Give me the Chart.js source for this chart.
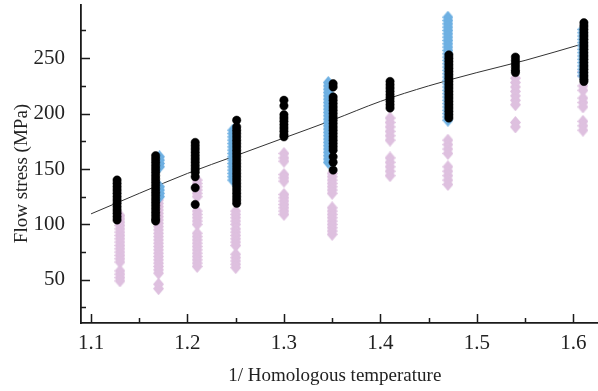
<!DOCTYPE html>
<html>
<head>
<meta charset="utf-8">
<script src="https://cdn.jsdelivr.net/npm/chart.js@4"></script>
<style>
  html, body { margin: 0; padding: 0; background: #fff; }
  #chart { display: block; }
</style>
</head>
<body>
<canvas id="chart" width="598" height="391"></canvas>
<script>
// column positions (1/ homologous temperature) and flow stress values (MPa)
const pinkX = [1.13, 1.17, 1.21, 1.25, 1.30, 1.35, 1.41, 1.47, 1.54, 1.61];
const pinkY = [
    [108, 105, 102, 99, 96, 93, 90, 87, 84, 81, 78, 75, 72, 69, 66, 58, 55, 52, 49],
    [125, 122, 119, 116, 113, 110, 107, 104, 101, 98, 95, 92, 89, 86, 83, 80, 77, 74, 71, 68, 65, 62, 59, 56, 46, 42],
    [140, 137, 134, 131, 128, 125, 112, 109, 106, 103, 100, 92, 89, 86, 83, 80, 77, 74, 71, 68, 65, 62],
    [112, 109, 106, 103, 100, 96, 93, 90, 87, 84, 81, 73, 70, 67, 64, 61],
    [164, 160, 157, 145, 142, 139, 127, 124, 121, 118, 115, 112, 109],
    [146, 143, 140, 137, 134, 131, 128, 115, 112, 109, 106, 103, 100, 97, 94, 91],
    [196, 192, 188, 184, 180, 176, 160, 156, 152, 148, 144],
    [176, 172, 168, 164, 152, 148, 144, 140, 136],
    [232, 228, 224, 220, 216, 212, 208, 192, 188],
    [238, 234, 225, 221, 214, 210, 206, 193, 189, 185]
];

const blueX = [1.171, 1.247, 1.346, 1.47, 1.61];
const blueY = [
    [161, 158, 155, 152, 134, 131, 128, 125],
    [185, 182, 179, 176, 173, 170, 167, 164, 161, 158, 155, 152, 149, 146, 143, 140],
    [228, 225, 222, 219, 216, 213, 210, 207, 204, 201, 198, 195, 192, 189, 186, 183, 180, 177, 174, 171, 168, 165, 162, 159, 156],
    [287, 284, 281, 278, 275, 272, 269, 266, 263, 260, 257, 254, 251, 248, 245, 242, 239, 236, 233, 230, 227, 224, 221, 218, 215, 212, 209, 206, 203, 200, 197, 194],
    [276, 273, 270, 267, 264, 261, 258, 255, 252, 249, 246, 243, 240, 237, 234]
];

const blackX = [1.127, 1.167, 1.208, 1.251, 1.30, 1.351, 1.41, 1.471, 1.54, 1.611];
const blackY = [
    [140, 137, 134, 131, 128, 125, 122, 119, 116, 113, 110, 107, 104],
    [162, 159, 156, 153, 150, 147, 144, 141, 138, 135, 132, 129, 126, 123, 120, 117, 114, 111, 108, 105, 103],
    [174, 171, 168, 165, 162, 159, 156, 153, 150, 147, 143, 133, 118],
    [194, 188, 185, 182, 179, 176, 173, 170, 167, 164, 161, 158, 155, 152, 149, 146, 143, 140, 137, 134, 131, 128, 125, 122, 119],
    [212, 207, 199, 196, 193, 190, 187, 184, 181, 179],
    [227, 224, 215, 212, 209, 206, 203, 200, 197, 194, 191, 188, 185, 182, 179, 176, 173, 170, 167, 161, 156, 149],
    [229, 226, 223, 220, 217, 214, 211, 208, 205],
    [253, 250, 247, 244, 241, 238, 235, 232, 229, 226, 223, 220, 217, 214, 211, 208, 205, 202, 199, 196],
    [251, 248, 245, 242, 239, 237],
    [282, 279, 276, 273, 270, 267, 264, 261, 258, 255, 252, 249, 246, 243, 240, 237, 234, 231, 229]
];

// fitted trend line
const lineX = [1.10, 1.15, 1.20, 1.25, 1.30, 1.35, 1.40, 1.45, 1.50, 1.55, 1.61];
const lineY = [109.5, 128, 146, 162, 178, 194, 211, 225, 237, 248, 263];

const xTicks = [1.1, 1.2, 1.3, 1.4, 1.5, 1.6];
const xMinorTicks = [1.15, 1.25, 1.35, 1.45, 1.55];
const yTicks = [50, 100, 150, 200, 250];
const yMinorTicks = [25, 75, 125, 175, 225, 275];

function toPoints(xs, ys) {
    const pts = [];
    xs.forEach((x, i) => ys[i].forEach(y => pts.push({ x: x, y: y })));
    return pts;
}

function diamond(color, w, h) {
    const c = document.createElement('canvas');
    c.width = w;
    c.height = h;
    const g = c.getContext('2d');
    g.fillStyle = color;
    g.beginPath();
    g.moveTo(w / 2, 0);
    g.lineTo(w, h / 2);
    g.lineTo(w / 2, h);
    g.lineTo(0, h / 2);
    g.closePath();
    g.fill();
    return c;
}

const FONT = 'Liberation Serif';
const AXIS_COLOR = '#1a1a1a';

// inward major/minor tick marks
const tickMarks = {
    id: 'tickMarks',
    afterDraw(chart) {
        const ctx = chart.ctx;
        const x = chart.scales.x;
        const y = chart.scales.y;
        ctx.save();
        ctx.strokeStyle = AXIS_COLOR;
        ctx.lineWidth = 1.5;
        ctx.beginPath();
        xTicks.forEach(v => {
            const px = Math.round(x.getPixelForValue(v)) + 0.5;
            ctx.moveTo(px, y.bottom);
            ctx.lineTo(px, y.bottom - 9);
        });
        xMinorTicks.forEach(v => {
            const px = Math.round(x.getPixelForValue(v)) + 0.5;
            ctx.moveTo(px, y.bottom);
            ctx.lineTo(px, y.bottom - 5);
        });
        yTicks.forEach(v => {
            const py = Math.round(y.getPixelForValue(v)) + 0.5;
            ctx.moveTo(x.left, py);
            ctx.lineTo(x.left + 9, py);
        });
        yMinorTicks.forEach(v => {
            const py = Math.round(y.getPixelForValue(v)) + 0.5;
            ctx.moveTo(x.left, py);
            ctx.lineTo(x.left + 5, py);
        });
        ctx.stroke();
        ctx.restore();
    }
};

new Chart(document.getElementById('chart'), {
    type: 'scatter',
    data: {
        datasets: [
            {
                label: 'black',
                data: toPoints(blackX, blackY),
                pointRadius: 4.2,
                pointBackgroundColor: '#000',
                pointBorderColor: '#000',
                pointBorderWidth: 0.5
            },
            {
                label: 'blue',
                data: toPoints(blueX, blueY),
                pointStyle: diamond('rgb(110,176,226)', 11, 13),
                pointRadius: 5
            },
            {
                label: 'pink',
                data: toPoints(pinkX, pinkY),
                pointStyle: diamond('rgb(222,192,223)', 11, 13),
                pointRadius: 5
            },
            {
                label: 'fit',
                type: 'line',
                data: lineX.map((x, i) => ({ x: x, y: lineY[i] })),
                borderColor: '#333',
                borderWidth: 1,
                pointRadius: 0,
                cubicInterpolationMode: 'monotone',
                fill: false
            }
        ]
    },
    options: {
        responsive: false,
        animation: false,
        events: [],
        layout: { autoPadding: false, padding: { top: 5, right: 0, left: 0, bottom: 0 } },
        plugins: {
            legend: { display: false },
            tooltip: { enabled: false }
        },
        scales: {
            x: {
                type: 'linear',
                min: 1.0896,
                max: 1.6256,
                afterBuildTicks: s => { s.ticks = xTicks.map(v => ({ value: v })); },
                afterFit: s => {
                    s.height = 68;
                    s.paddingLeft = 0;
                    s.paddingRight = 0;
                },
                grid: { display: false, drawTicks: false, tickLength: 0 },
                border: { display: true, color: AXIS_COLOR, width: 1.8 },
                ticks: {
                    autoSkip: false,
                    maxRotation: 0,
                    padding: 8,
                    color: '#222',
                    font: { family: FONT, size: 21 },
                    callback: v => v.toFixed(1)
                },
                title: {
                    display: true,
                    text: '1/ Homologous temperature  ',
                    color: '#222',
                    font: { family: FONT, size: 19 },
                    padding: { top: 4, bottom: 4 }
                }
            },
            y: {
                type: 'linear',
                min: 11,
                max: 298,
                afterBuildTicks: s => { s.ticks = yTicks.map(v => ({ value: v })); },
                afterFit: s => {
                    s.width = 81;
                    s.paddingTop = 0;
                    s.paddingBottom = 0;
                },
                grid: { display: false, drawTicks: false, tickLength: 0 },
                border: { display: true, color: AXIS_COLOR, width: 1.8 },
                ticks: {
                    padding: 16,
                    color: '#222',
                    font: { family: FONT, size: 21 }
                },
                title: {
                    display: true,
                    text: 'Flow stress (MPa)    ',
                    color: '#222',
                    font: { family: FONT, size: 19 },
                    padding: { top: 11, bottom: 4 }
                }
            }
        }
    },
    plugins: [tickMarks]
});
</script>
</body>
</html>
